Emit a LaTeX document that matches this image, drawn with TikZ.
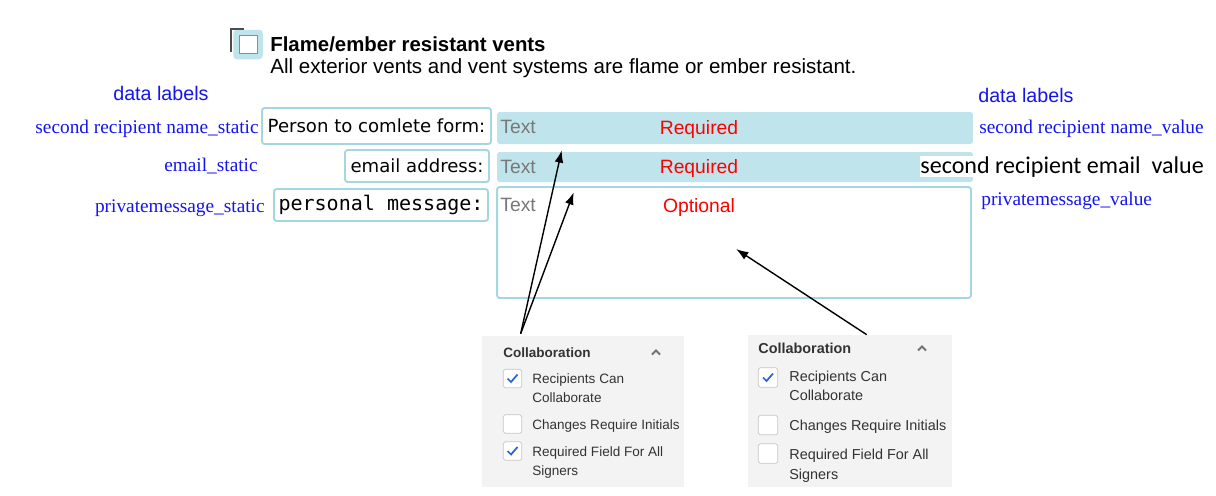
\documentclass[tikz,border=0pt]{standalone}
\usepackage{fontspec}
\setmainfont{Liberation Sans}
\newfontfamily\timesf{Liberation Serif}
\newfontfamily\verdf{DejaVu Sans}
\newfontfamily\monof{DejaVu Sans Mono}
\newfontfamily\calibf{Carlito}
\usetikzlibrary{arrows.meta, calc}
\definecolor{fieldblue}{RGB}{192,228,236}
\definecolor{frameblue}{RGB}{166,214,226}
\definecolor{panelgray}{RGB}{243,243,243}
\definecolor{tickblue}{RGB}{40,100,230}
\definecolor{hintgray}{RGB}{120,120,120}
\definecolor{labelblue}{RGB}{20,20,240}
\newcommand{\tickmark}[1]{\draw[tickblue, line width=1pt] ($(#1.center)+(-5,0)$) -- ($(#1.center)+(-1.5,3.5)$) -- ($(#1.center)+(5,-4)$);}
\newcommand{\caretmark}[1]{\draw[black!55, line width=1.1pt] ($(#1)+(-4,2.5)$) -- ($(#1)+(0,-1.5)$) -- ($(#1)+(4,2.5)$);}

\begin{document}
\begin{tikzpicture}[x=0.02cm, y=-0.02cm, >=latex,
  datalab/.style={font=\fontsize{11.2}{13}\selectfont, text=labelblue, inner sep=0pt, anchor=base west},
  serlab/.style={font=\timesf\fontsize{11}{13}\selectfont, text=labelblue, inner sep=0pt},
  staticbox/.style={draw=frameblue, line width=1.1pt, rounded corners=1.5pt, fill=white, inner sep=0pt},
  valuebox/.style={fill=fieldblue, rounded corners=1.5pt, inner sep=0pt},
  hint/.style={font=\fontsize{11}{13}\selectfont, text=hintgray, inner sep=0pt, anchor=base west},
  needlab/.style={font=\fontsize{11}{13}\selectfont, text=red, inner sep=0pt, anchor=base},
  panel/.style={fill=panelgray, inner sep=0pt},
  optlab/.style={font=\fontsize{7.7}{9}\selectfont, text=black!80, inner sep=0pt, anchor=base west},
  optlabB/.style={optlab, font=\fontsize{8.2}{10}\selectfont},
  checkbox/.style={draw=black!22, fill=white, rounded corners=1pt, minimum size=0.37cm, inner sep=0pt}]
\useasboundingbox (0,0) rectangle (1216,495);

% heading
\node[fill=fieldblue, rounded corners=2pt, minimum size=0.59cm, inner sep=0pt] (ventbox) at (248,44.5) {};
\node[draw=black!45, fill=white, minimum size=0.36cm, inner sep=0pt] (ventcheck) at (248,44.5) {};
\draw[black!70, line width=1.3pt] (231,52) -- (231,29) -- (244,29);
\node[anchor=base west, inner sep=0pt, font=\bfseries\fontsize{11.6}{14}\selectfont] (venttitle) at (270,51) {Flame/ember resistant vents};
\node[anchor=base west, inner sep=0pt, font=\fontsize{11.7}{14}\selectfont] (ventnote) at (270,73) {All exterior vents and vent systems are flame or ember resistant.};

\node[datalab] (leftdata) at (113,100) {data labels};
\node[datalab] (rightdata) at (978,102) {data labels};

% static fields
\node[staticbox, minimum width=4.58cm, minimum height=0.72cm, font=\verdf\fontsize{10.3}{12}\selectfont] (namestatic) at (376.5,126) {Person to comlete form:};
\node[staticbox, minimum width=2.88cm, minimum height=0.64cm, font=\verdf\fontsize{10.3}{12}\selectfont] (emailstatic) at (417,166) {email address:};
\node[staticbox, minimum width=4.28cm, minimum height=0.64cm, font=\monof\fontsize{11.4}{13}\selectfont] (msgstatic) at (381,205) {personal message:};

\node[serlab, anchor=base east] (namestaticlab) at (259,133) {second recipient name\_static};
\node[serlab, anchor=base east] (emailstaticlab) at (258,171) {email\_static};
\node[serlab, anchor=base east] (msgstaticlab) at (265,212) {privatemessage\_static};

% value fields
\node[valuebox, minimum width=9.52cm, minimum height=0.64cm] (namevalue) at (735,128) {};
\node[valuebox, minimum width=9.52cm, minimum height=0.6cm] (emailvalue) at (735,167) {};
\node[staticbox, minimum width=9.48cm, minimum height=2.22cm] (msgvalue) at (734,242.5) {};

\node[hint] (namehint) at (500,133) {Text};
\node[hint] (emailhint) at (500,173) {Text};
\node[hint] (msghint) at (500,211) {Text};
\node[needlab] (nameneed) at (699,134) {Required};
\node[needlab] (emailneed) at (699,173) {Required};
\node[needlab] (msgneed) at (699,212) {Optional};

\node[serlab, anchor=base west] (namevaluelab) at (979,133) {second recipient name\_value};
\node[fill=white, inner sep=0pt, anchor=base west, font=\calibf\fontsize{13.7}{16}\selectfont] (emailvaluelab) at (920,173) {second recipient email\ \ value};
\node[serlab, anchor=base west] (msgvaluelab) at (981,205) {privatemessage\_value};

% option panels
\node[panel, minimum width=4.04cm, minimum height=3.02cm] (collabA) at (583,411.5) {};
\node[panel, minimum width=4.08cm, minimum height=3.04cm] (collabB) at (850,411) {};

\node[optlab, font=\bfseries\fontsize{7.7}{9}\selectfont] (headA) at (503,357) {Collaboration};
\coordinate (caretA) at (656,352);
\caretmark{caretA}
\node[checkbox] (boxAa) at (512.5,378.5) {};
\node[checkbox] (boxAb) at (512.5,424) {};
\node[checkbox] (boxAc) at (512.5,451) {};
\tickmark{boxAa}
\tickmark{boxAc}
\node[optlab] (optAa) at (532,383) {Recipients Can};
\node[optlab] (optAa2) at (532,402) {Collaborate};
\node[optlab] (optAb) at (532,429) {Changes Require Initials};
\node[optlab] (optAc) at (532,456) {Required Field For All};
\node[optlab] (optAc2) at (532,475) {Signers};

\node[optlab, font=\bfseries\fontsize{8.2}{10}\selectfont] (headB) at (758,353) {Collaboration};
\coordinate (caretB) at (922,348);
\caretmark{caretB}
\node[checkbox, minimum size=0.39cm] (boxBa) at (768,377.5) {};
\node[checkbox, minimum size=0.39cm] (boxBb) at (768,425) {};
\node[checkbox, minimum size=0.39cm] (boxBc) at (768,453.5) {};
\tickmark{boxBa}
\node[optlabB] (optBa) at (789,381) {Recipients Can};
\node[optlabB] (optBa2) at (789,400) {Collaborate};
\node[optlabB] (optBb) at (789,430) {Changes Require Initials};
\node[optlabB] (optBc) at (789,459) {Required Field For All};
\node[optlabB] (optBc2) at (789,479) {Signers};

% pointers
\coordinate (pickA) at ($(collabA.north west)+(39,-2)$);
\coordinate (pickB) at ($(collabB.north west)+(119,0)$);
\coordinate (tipname) at ($(namevalue.south west)+(65,6)$);
\coordinate (tipemail) at ($(emailvalue.south west)+(77,10)$);
\coordinate (tipmsg) at ($(msgvalue.north west)+(240,63)$);
\draw[-{Latex[length=7pt,width=5pt]}, line width=0.8pt] (pickA) -- (tipname);
\draw[-{Latex[length=7pt,width=5pt]}, line width=0.8pt] (pickA) -- (tipemail);
\draw[-{Latex[length=7pt,width=5pt]}, line width=0.8pt] (pickB) -- (tipmsg);

\end{tikzpicture}
\end{document}
